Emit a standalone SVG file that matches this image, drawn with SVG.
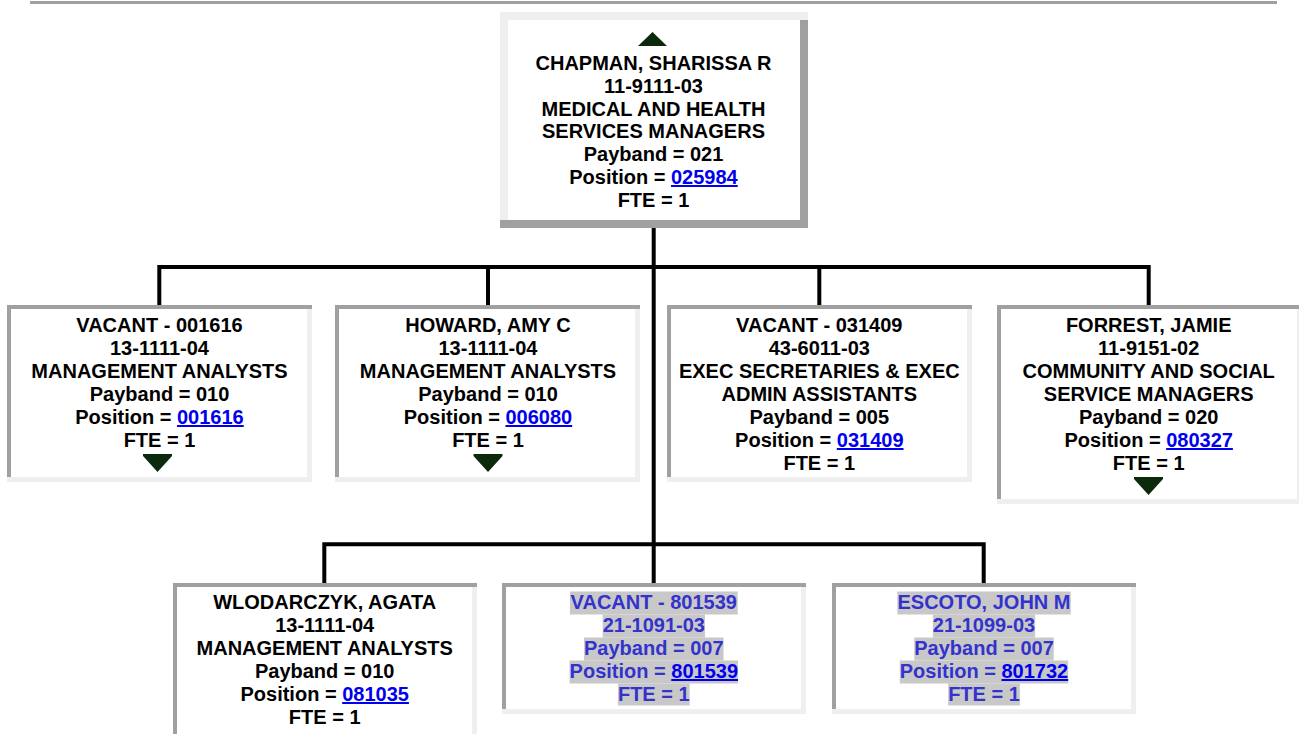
<svg xmlns="http://www.w3.org/2000/svg" width="1299" height="734" viewBox="0 0 1299 734">
<style>
.t{font-family:"Liberation Sans",Arial,Helvetica,sans-serif;font-weight:bold;font-size:20px;text-anchor:middle;fill:#000}
.b{fill:#3333cc}
.lk{fill:#0000ee;text-decoration:underline}
.hl{fill:#c8c8c8}
.dk{fill:#a0a0a0}
.lt{fill:#efefef}
.wh{fill:#fff}
.ar{fill:#0b2a0b}
.cn{fill:none;stroke:#000;stroke-width:4}
</style>
<rect width="1299" height="734" fill="#fff"/>
<rect x="30" y="1" width="1247" height="3" class="dk"/>

<g id="connectors">
<path class="cn" d="M653.7 228V583"/>
<path class="cn" d="M159.3 305V267H1148.7V305"/>
<path class="cn" d="M488 267V305"/>
<path class="cn" d="M819.3 267V305"/>
<path class="cn" d="M324.3 583V544.3H983.7V583"/>
</g>

<g id="chapman">
<rect x="500" y="12" width="308" height="216" class="wh"/>
<rect x="500" y="12" width="308" height="8" class="lt"/>
<rect x="500" y="20" width="8" height="200" class="lt"/>
<rect x="800" y="20" width="8" height="208" class="dk"/>
<rect x="500" y="220" width="308" height="8" class="dk"/>
<polygon class="ar" points="652.5,32 667,46 638,46"/>
<text class="t" x="653.5" y="70">CHAPMAN, SHARISSA R</text>
<text class="t" x="653.5" y="92.8">11-9111-03</text>
<text class="t" x="653.5" y="115.6">MEDICAL AND HEALTH</text>
<text class="t" x="653.5" y="138.4">SERVICES MANAGERS</text>
<text class="t" x="653.5" y="161.2">Payband = 021</text>
<text class="t" x="653.5" y="184">Position = <tspan class="lk">025984</tspan></text>
<text class="t" x="653.5" y="206.8">FTE = 1</text>
</g>

<g id="vacant-001616">
<rect x="7" y="305" width="305" height="177" class="wh"/>
<rect x="7" y="305" width="305" height="4" class="dk"/>
<rect x="7" y="309" width="4" height="168" class="dk"/>
<rect x="307" y="309" width="5" height="173" class="lt"/>
<rect x="7" y="477" width="305" height="5" class="lt"/>
<text class="t" x="159.5" y="332">VACANT - 001616</text>
<text class="t" x="159.5" y="355">13-1111-04</text>
<text class="t" x="159.5" y="378">MANAGEMENT ANALYSTS</text>
<text class="t" x="159.5" y="401">Payband = 010</text>
<text class="t" x="159.5" y="424">Position = <tspan class="lk">001616</tspan></text>
<text class="t" x="159.5" y="447">FTE = 1</text>
<polygon class="ar" points="143,454 172,454 172,456 157.5,472 143,456"/>
</g>

<g id="howard">
<rect x="335" y="305" width="305" height="177" class="wh"/>
<rect x="335" y="305" width="305" height="4" class="dk"/>
<rect x="335" y="309" width="4" height="168" class="dk"/>
<rect x="635" y="309" width="5" height="173" class="lt"/>
<rect x="335" y="477" width="305" height="5" class="lt"/>
<text class="t" x="488" y="332">HOWARD, AMY C</text>
<text class="t" x="488" y="355">13-1111-04</text>
<text class="t" x="488" y="378">MANAGEMENT ANALYSTS</text>
<text class="t" x="488" y="401">Payband = 010</text>
<text class="t" x="488" y="424">Position = <tspan class="lk">006080</tspan></text>
<text class="t" x="488" y="447">FTE = 1</text>
<polygon class="ar" points="473.5,454 502.5,454 502.5,456 488,472 473.5,456"/>
</g>

<g id="vacant-031409">
<rect x="667" y="305" width="305" height="177" class="wh"/>
<rect x="667" y="305" width="305" height="4" class="dk"/>
<rect x="667" y="309" width="4" height="168" class="dk"/>
<rect x="967" y="309" width="5" height="173" class="lt"/>
<rect x="667" y="477" width="305" height="5" class="lt"/>
<text class="t" x="819.3" y="332">VACANT - 031409</text>
<text class="t" x="819.3" y="355">43-6011-03</text>
<text class="t" x="819.3" y="378">EXEC SECRETARIES &amp; EXEC</text>
<text class="t" x="819.3" y="401">ADMIN ASSISTANTS</text>
<text class="t" x="819.3" y="424">Payband = 005</text>
<text class="t" x="819.3" y="447">Position = <tspan class="lk">031409</tspan></text>
<text class="t" x="819.3" y="470">FTE = 1</text>
</g>

<g id="forrest">
<rect x="997" y="305" width="305" height="199" class="wh"/>
<rect x="997" y="305" width="305" height="4" class="dk"/>
<rect x="997" y="309" width="4" height="190" class="dk"/>
<rect x="1297" y="309" width="5" height="195" class="lt"/>
<rect x="997" y="499" width="305" height="5" class="lt"/>
<text class="t" x="1148.7" y="332">FORREST, JAMIE</text>
<text class="t" x="1148.7" y="355">11-9151-02</text>
<text class="t" x="1148.7" y="378">COMMUNITY AND SOCIAL</text>
<text class="t" x="1148.7" y="401">SERVICE MANAGERS</text>
<text class="t" x="1148.7" y="424">Payband = 020</text>
<text class="t" x="1148.7" y="447">Position = <tspan class="lk">080327</tspan></text>
<text class="t" x="1148.7" y="470">FTE = 1</text>
<polygon class="ar" points="1134,477 1163,477 1163,479 1148.5,495 1134,479"/>
</g>

<g id="wlodarczyk">
<rect x="173" y="583" width="304" height="160" class="wh"/>
<rect x="173" y="583" width="304" height="4" class="dk"/>
<rect x="173" y="587" width="4" height="156" class="dk"/>
<rect x="472" y="587" width="5" height="156" class="lt"/>
<text class="t" x="324.7" y="609">WLODARCZYK, AGATA</text>
<text class="t" x="324.7" y="632">13-1111-04</text>
<text class="t" x="324.7" y="655">MANAGEMENT ANALYSTS</text>
<text class="t" x="324.7" y="678">Payband = 010</text>
<text class="t" x="324.7" y="701">Position = <tspan class="lk">081035</tspan></text>
<text class="t" x="324.7" y="724">FTE = 1</text>
</g>

<g id="vacant-801539">
<rect x="502" y="583" width="304" height="131" class="wh"/>
<rect x="502" y="583" width="304" height="4" class="dk"/>
<rect x="502" y="587" width="4" height="122" class="dk"/>
<rect x="801" y="587" width="5" height="127" class="lt"/>
<rect x="502" y="709" width="304" height="5" class="lt"/>
<rect class="hl" x="569.9" y="591.5" width="167.8" height="23"/>
<rect class="hl" x="602.65" y="614.5" width="102.3" height="23"/>
<rect class="hl" x="584.05" y="637.5" width="139.5" height="23"/>
<rect class="hl" x="569.6" y="660.5" width="168.4" height="23"/>
<rect class="hl" x="617.95" y="683.5" width="71.7" height="22"/>
<text class="t b" x="653.8" y="609">VACANT - 801539</text>
<text class="t b" x="653.8" y="632">21-1091-03</text>
<text class="t b" x="653.8" y="655">Payband = 007</text>
<text class="t b" x="653.8" y="678">Position = <tspan class="lk">801539</tspan></text>
<text class="t b" x="653.8" y="701">FTE = 1</text>
</g>

<g id="escoto">
<rect x="832" y="583" width="304" height="131" class="wh"/>
<rect x="832" y="583" width="304" height="4" class="dk"/>
<rect x="832" y="587" width="4" height="122" class="dk"/>
<rect x="1131" y="587" width="5" height="127" class="lt"/>
<rect x="832" y="709" width="304" height="5" class="lt"/>
<rect class="hl" x="897.3" y="591.5" width="173.4" height="23"/>
<rect class="hl" x="932.85" y="614.5" width="102.3" height="23"/>
<rect class="hl" x="914.25" y="637.5" width="139.5" height="23"/>
<rect class="hl" x="899.8" y="660.5" width="168.4" height="23"/>
<rect class="hl" x="948.15" y="683.5" width="71.7" height="22"/>
<text class="t b" x="984" y="609">ESCOTO, JOHN M</text>
<text class="t b" x="984" y="632">21-1099-03</text>
<text class="t b" x="984" y="655">Payband = 007</text>
<text class="t b" x="984" y="678">Position = <tspan class="lk">801732</tspan></text>
<text class="t b" x="984" y="701">FTE = 1</text>
</g>
</svg>
